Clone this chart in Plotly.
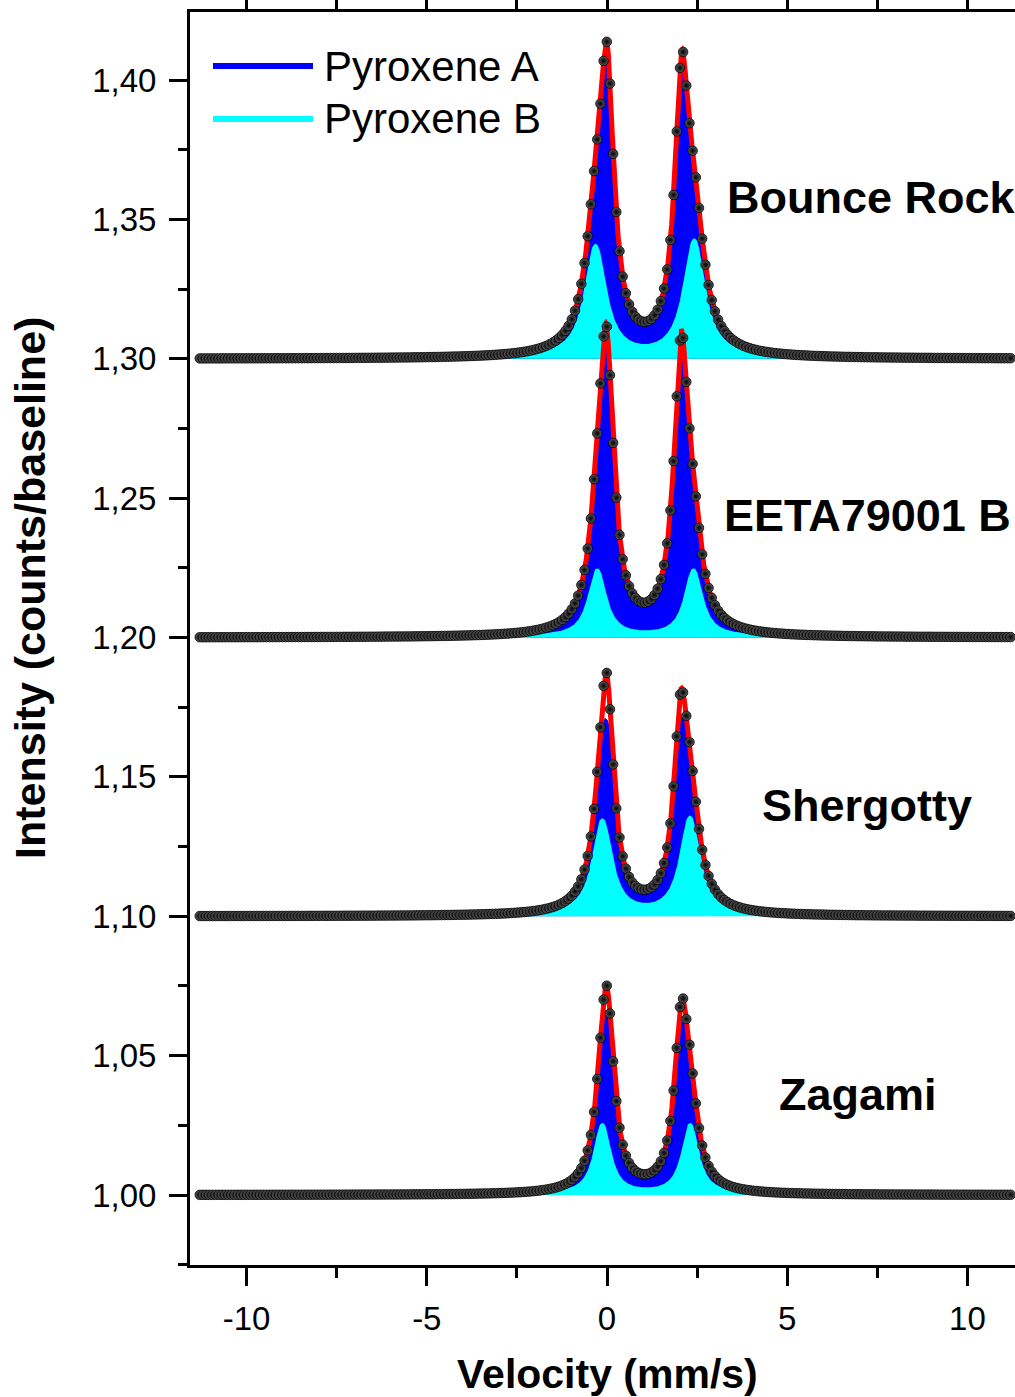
import numpy as np
import plotly.graph_objects as go

# ---------------- data ----------------
samples = ["Bounce Rock", "EETA79001 B", "Shergotty", "Zagami"]
offsets = [0.30, 0.20, 0.10, 0.00]          # vertical offset of each spectrum
# Pyroxene B doublet (Lorentzian lines): centres (mm/s), heights, HWHM (mm/s)
pyxB_c1 = [-0.32, -0.27, -0.13, -0.13]
pyxB_c2 = [2.42, 2.40, 2.30, 2.31]
pyxB_h1 = [0.040, 0.024, 0.034, 0.025]
pyxB_h2 = [0.042, 0.024, 0.035, 0.025]
pyxB_w = [0.34, 0.28, 0.31, 0.26]
# Pyroxene A doublet (plotted stacked on Pyroxene B)
pyxA_c1 = [0.00, -0.02, 0.00, 0.01]
pyxA_c2 = [2.07, 2.06, 2.04, 2.06]
pyxA_h1 = [0.082, 0.092, 0.0387, 0.044]
pyxA_h2 = [0.080, 0.093, 0.0476, 0.0467]
pyxA_w = [0.235, 0.25, 0.23, 0.235]
# remaining part of the total fit above the A+B stack (tips at the line centres)
rest_h1 = [0.0083, 0.0054, 0.018, 0.010]
rest_h2 = [0.0080, 0.0054, 0.0114, 0.0098]
rest_w = [0.19, 0.19, 0.20, 0.20]
# velocity channels of the spectrometer
n_channels = 256
v_min, v_max = -11.3, 11.2
# label positions (velocity, intensity)
label_v = [3.27, 3.19, 4.24, 4.72]
label_i = [1.3577, 1.2439, 1.1399, 1.0359]
y_ticks = [1.00, 1.05, 1.10, 1.15, 1.20, 1.25, 1.30, 1.35, 1.40]
x_ticks = [-10, -5, 0, 5, 10]
x_ticktext = ["-10", "-5", "0", "5", "10"]
legend_names = ["Pyroxene A", "Pyroxene B"]
# --------------------------------------------------------------

BLUE, CYAN, RED = "#0000ff", "#00ffff", "#ff0000"


def lor(v, c, h, w):
    return h / (1.0 + ((v - c) / w) ** 2)


v_fine = np.linspace(v_min, v_max, 2400)
v_chan = np.linspace(v_min, v_max, n_channels)


def comp_a(v, k):
    return lor(v, pyxA_c1[k], pyxA_h1[k], pyxA_w[k]) + lor(v, pyxA_c2[k], pyxA_h2[k], pyxA_w[k])


def comp_b(v, k):
    return lor(v, pyxB_c1[k], pyxB_h1[k], pyxB_w[k]) + lor(v, pyxB_c2[k], pyxB_h2[k], pyxB_w[k])


def comp_rest(v, k):
    return lor(v, pyxA_c1[k], rest_h1[k], rest_w[k]) + lor(v, pyxA_c2[k], rest_h2[k], rest_w[k])


def total(v, k):
    return 1.0 + offsets[k] + comp_b(v, k) + comp_a(v, k) + comp_rest(v, k)


fig = go.Figure()
poly_x = np.concatenate([v_fine, v_fine[::-1]])

# filled components: blue = B + A stacked, cyan = B on top of it
for k, name in enumerate(samples):
    base = 1.0 + offsets[k]
    top_a = base + comp_b(v_fine, k) + comp_a(v_fine, k)
    top_b = base + comp_b(v_fine, k)
    for top, col, lname, lw in ((top_a, BLUE, legend_names[0], 4), (top_b, CYAN, legend_names[1], 3)):
        fig.add_trace(go.Scatter(x=poly_x, y=np.concatenate([top, np.full_like(v_fine, base)]),
                                 mode="lines", fill="toself", fillcolor=col, line=dict(width=0, color=col),
                                 showlegend=False, hoverinfo="skip"))
        fig.add_trace(go.Scatter(x=v_fine, y=top, mode="lines", line=dict(width=lw, color=col),
                                 name=lname, showlegend=False))

# total fits
for k, name in enumerate(samples):
    fig.add_trace(go.Scatter(x=v_fine, y=total(v_fine, k), mode="lines",
                             line=dict(width=5, color=RED), name=name + " fit", showlegend=False))

# measured points
for k, name in enumerate(samples):
    fig.add_trace(go.Scatter(x=v_chan, y=total(v_chan, k), mode="markers",
                             marker=dict(size=9.5, color="#5a5a5a",
                                         gradient=dict(type="radial", color="#000000"),
                                         line=dict(width=0.8, color="#000000")),
                             name=name, showlegend=False))

# sample labels
for k, name in enumerate(samples):
    fig.add_annotation(x=label_v[k], y=label_i[k], text="<b>" + name + "</b>", showarrow=False,
                       xanchor="left", yanchor="middle",
                       font=dict(family="Liberation Sans, Arial", size=45, color="black"))

# legend (drawn by hand to get the long line samples)
L, R, T, B = 190, 1015, 12, 1265


def px(xpix):
    return (xpix - L) / (R - L)


def py(ypix):
    return (B - ypix) / (B - T)


for name, col, ypix in ((legend_names[0], BLUE, 66), (legend_names[1], CYAN, 119)):
    fig.add_shape(type="line", xref="paper", yref="paper", x0=px(213), x1=px(313), y0=py(ypix), y1=py(ypix),
                  line=dict(color=col, width=6))
    fig.add_annotation(xref="paper", yref="paper", x=px(322), y=py(ypix), text=name, showarrow=False,
                       xanchor="left", yanchor="middle",
                       font=dict(family="Liberation Sans, Arial", size=42, color="black"))

# axis titles
fig.add_annotation(xref="paper", yref="paper", x=px(30), y=py(588), text="<b>Intensity (counts/baseline)</b>",
                   textangle=-90, showarrow=False, xanchor="center", yanchor="middle",
                   font=dict(family="Liberation Sans, Arial", size=43, color="black"))
fig.add_annotation(xref="paper", yref="paper", x=px(607), y=py(1374), text="<b>Velocity (mm/s)</b>",
                   showarrow=False, xanchor="center", yanchor="middle",
                   font=dict(family="Liberation Sans, Arial", size=41, color="black"))

tickfont = dict(family="Liberation Sans, Arial", size=33, color="black")
fig.update_layout(
    width=1015, height=1397,
    margin=dict(l=L, r=1015 - R, t=T, b=1397 - B),
    paper_bgcolor="white", plot_bgcolor="white",
    separators=", ",
    showlegend=False,
    xaxis=dict(range=[-11.57, 11.32], tickvals=x_ticks, ticktext=x_ticktext, ticks="outside", ticklen=18,
               tickwidth=3, tickcolor="black", showline=True, linewidth=3, linecolor="black",
               mirror="allticks", showgrid=False, zeroline=False, tickfont=tickfont, automargin=False,
               ticklabelstandoff=4,
               minor=dict(dtick=2.5, tick0=0, ticks="outside", ticklen=10, tickwidth=3, tickcolor="black",
                          showgrid=False)),
    yaxis=dict(range=[0.9749, 1.4244], tickvals=y_ticks, tickformat=".2f", ticks="outside", ticklen=18,
               tickwidth=3, tickcolor="black", showline=True, linewidth=3, linecolor="black",
               showgrid=False, zeroline=False, tickfont=tickfont, ticklabelstandoff=6, automargin=False,
               minor=dict(dtick=0.025, tick0=1.0, ticks="outside", ticklen=9, tickwidth=3, tickcolor="black",
                          showgrid=False)),
)

fig.write_html("out.html")
